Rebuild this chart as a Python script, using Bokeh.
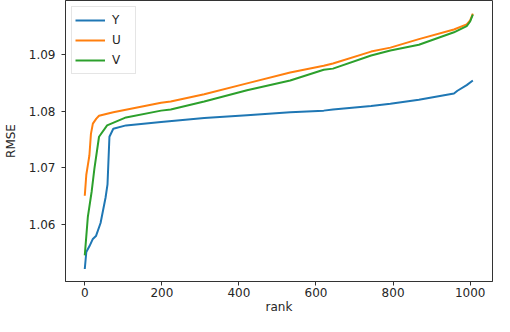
from bokeh.plotting import figure
from bokeh.models import Range1d, Legend, LegendItem, FixedTicker
from bokeh.embed import file_html
from bokeh.resources import INLINE

# ---- data ----
rank_y = [0, 4, 12, 21, 29, 41, 54, 59, 64, 74, 107, 198, 310, 421, 533, 620, 644, 743, 793, 867, 958, 967, 991, 1007]
rmse_y = [1.0522, 1.0552, 1.0562, 1.0575, 1.0580, 1.0603, 1.0648, 1.0671, 1.0755, 1.0769, 1.0775, 1.0781,
          1.0788, 1.0793, 1.0798, 1.0801, 1.0803, 1.0809, 1.0813, 1.0820, 1.0831, 1.0836, 1.0846, 1.0854]

rank_u = [0, 4, 8, 12, 16, 21, 30, 37, 74, 198, 223, 310, 421, 533, 620, 644, 743, 793, 867, 958, 991, 1000, 1007]
rmse_u = [1.0651, 1.0688, 1.0705, 1.0722, 1.0760, 1.0778, 1.0787, 1.0792, 1.0798, 1.0815, 1.0817, 1.0830,
          1.0849, 1.0868, 1.0880, 1.0884, 1.0905, 1.0912, 1.0927, 1.0944, 1.0953, 1.0960, 1.0972]

rank_v = [0, 4, 8, 18, 25, 37, 58, 107, 198, 223, 310, 421, 533, 620, 644, 743, 793, 867, 958, 991, 1000, 1007]
rmse_v = [1.0546, 1.0580, 1.0614, 1.0659, 1.0699, 1.0755, 1.0775, 1.0789, 1.0801, 1.0803, 1.0817, 1.0837,
          1.0854, 1.0873, 1.0875, 1.0898, 1.0907, 1.0917, 1.0939, 1.0950, 1.0958, 1.0970]

series_names = ["Y", "U", "V"]
series_colors = ["#1f77b4", "#ff7f0e", "#2ca02c"]

x_ticks = [0, 200, 400, 600, 800, 1000]
y_ticks = [1.06, 1.07, 1.08, 1.09]

FONT = "DejaVu Sans"

p = figure(width=494, height=316, output_backend="svg", toolbar_location=None,
           x_range=Range1d(-50, 1058), y_range=Range1d(1.0500, 1.0995),
           min_border_left=52, min_border_right=2, min_border_top=0, min_border_bottom=0)

p.xgrid.visible = False
p.ygrid.visible = False
p.outline_line_color = "#333333"
p.outline_line_width = 1
p.background_fill_color = "white"
p.border_fill_color = "white"

for ax in (p.xaxis[0], p.yaxis[0]):
    ax.axis_line_color = "#333333"
    ax.major_tick_line_color = "#333333"
    ax.major_tick_out = 4
    ax.major_tick_in = 0
    ax.minor_tick_line_color = None
    ax.major_label_text_font = FONT
    ax.major_label_text_font_size = "12px"
    ax.major_label_text_color = "#262626"
    ax.axis_label_text_font = FONT
    ax.axis_label_text_font_size = "12px"
    ax.axis_label_text_font_style = "normal"
    ax.axis_label_text_color = "#262626"

p.xaxis.ticker = FixedTicker(ticks=x_ticks)
p.yaxis.ticker = FixedTicker(ticks=y_ticks)
p.xaxis.axis_label = "rank"
p.yaxis.axis_label = "RMSE"
p.xaxis.major_label_standoff = 2
p.yaxis.major_label_standoff = 6
p.xaxis.axis_label_standoff = 0
p.yaxis.axis_label_standoff = 8

r1 = p.line(rank_y, rmse_y, line_color=series_colors[0], line_width=2)
r2 = p.line(rank_u, rmse_u, line_color=series_colors[1], line_width=2)
r3 = p.line(rank_v, rmse_v, line_color=series_colors[2], line_width=2)

legend = Legend(items=[LegendItem(label=series_names[0], renderers=[r1]),
                       LegendItem(label=series_names[1], renderers=[r2]),
                       LegendItem(label=series_names[2], renderers=[r3])],
                location="top_left")
legend.margin = 6
legend.padding = 3
legend.spacing = 0
legend.glyph_width = 30
legend.glyph_height = 20
legend.label_height = 20
legend.label_standoff = 7
legend.label_text_font = FONT
legend.label_text_font_size = "12px"
legend.label_text_color = "#262626"
legend.border_line_color = "#cccccc"
legend.border_line_width = 1
legend.background_fill_alpha = 0.8
p.add_layout(legend)

open("out.html", "w").write(file_html(p, INLINE))
